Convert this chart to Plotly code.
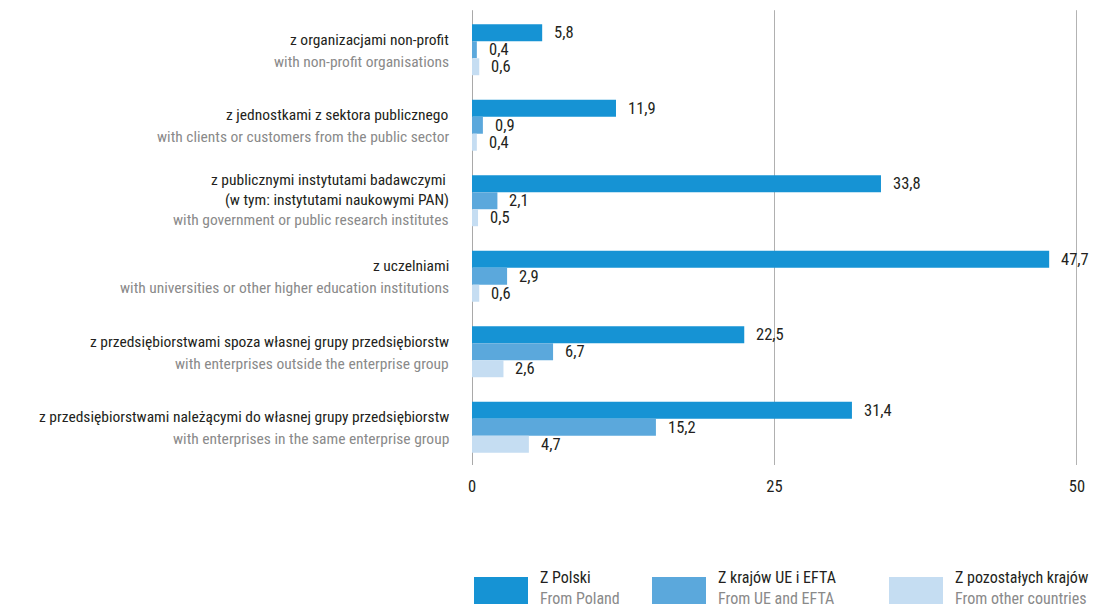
import plotly.graph_objects as go

# Categories (top to bottom) and their two-language labels
categories = ["nonprofit", "public_sector", "research", "universities", "outside_group", "same_group"]
pl_labels = [
    ["z organizacjami non-profit"],
    ["z jednostkami z sektora publicznego"],
    ["z publicznymi instytutami badawczymi\u00a0", "(w tym: instytutami naukowymi PAN)"],
    ["z uczelniami"],
    ["z przedsiębiorstwami spoza własnej grupy przedsiębiorstw"],
    ["z przedsiębiorstwami należącymi do własnej grupy przedsiębiorstw"],
]
en_labels = [
    "with non-profit organisations",
    "with clients or customers from the public sector",
    "with government or public research institutes",
    "with universities or other higher education institutions",
    "with enterprises outside the enterprise group",
    "with enterprises in the same enterprise group",
]

# Series values (%)
poland = [5.8, 11.9, 33.8, 47.7, 22.5, 31.4]
eu_efta = [0.4, 0.9, 2.1, 2.9, 6.7, 15.2]
other = [0.6, 0.4, 0.5, 0.6, 2.6, 4.7]

series_names_pl = ["Z Polski", "Z krajów UE i EFTA", "Z pozostałych krajów"]
series_names_en = ["From Poland", "From UE and EFTA", "From other countries"]
series_values = [poland, eu_efta, other]
colors = ["#1693d4", "#5ba8dc", "#c5ddf2"]

x_ticks = [0, 25, 50]

FONT = "Roboto Condensed, Liberation Sans Narrow, sans-serif"
DARK = "#231f20"
GREY = "#8a8a8a"

fig = go.Figure()
for name, vals, col in zip(series_names_pl, series_values, colors):
    fig.add_trace(go.Bar(
        y=categories, x=vals, orientation="h", name=name,
        marker=dict(color=col, line=dict(width=0)),
        showlegend=False, hoverinfo="x+name",
    ))

annotations = []

# Value labels to the right of each bar (series offset within a group: 17 px)
for k, vals in enumerate(series_values):
    for cat, v in zip(categories, vals):
        annotations.append(dict(
            x=v, xref="x", y=cat, yref="y",
            text=f"{v:.1f}".replace(".", ","), showarrow=False,
            xanchor="left", yanchor="middle", xshift=10, yshift=17 - 17 * k,
            font=dict(family=FONT, size=16.5, color=DARK),
        ))

# Category labels left of the plot
for cat, pl, en in zip(categories, pl_labels, en_labels):
    lines = [(t, DARK) for t in pl] + [(en, GREY)]
    n = len(lines)
    step = 22 if n == 2 else 20
    top = (n - 1) * step / 2 + (-1 if n == 2 else 1)
    for i, (t, c) in enumerate(lines):
        annotations.append(dict(
            x=-0.035, xref="paper", y=cat, yref="y",
            text=t, showarrow=False, xanchor="right", yanchor="middle",
            yshift=top - i * step,
            font=dict(family=FONT, size=15.5, color=c),
        ))

# Custom legend below the axis
PX_W, PX_H = 605, 453  # plot area size in pixels
x0_px = [474, 652, 889]
for px, col, npl, nen in zip(x0_px, colors, series_names_pl, series_names_en):
    xa = (px - 472) / PX_W
    xb = (px + 54 - 472) / PX_W
    fig.add_shape(type="rect", xref="paper", yref="paper",
                  x0=xa, x1=xb, y0=(465 - 604) / PX_H, y1=(465 - 577) / PX_H,
                  fillcolor=col, line=dict(width=0))
    tx = (px + 64 - 472) / PX_W
    annotations.append(dict(x=tx, xref="paper", y=(465 - 577) / PX_H, yref="paper",
                            text=npl, showarrow=False, xanchor="left", yanchor="middle",
                            font=dict(family=FONT, size=16, color=DARK)))
    annotations.append(dict(x=tx, xref="paper", y=(465 - 598) / PX_H, yref="paper",
                            text=nen, showarrow=False, xanchor="left", yanchor="middle",
                            font=dict(family=FONT, size=16, color=GREY)))

# Vertical reference lines
for xv, col in zip(x_ticks, ["#555555", "#b0b0b0", "#666666"]):
    fig.add_shape(type="line", xref="x", yref="paper", x0=xv, x1=xv, y0=0.0, y1=1.004,
                  line=dict(color=col, width=1), layer="below")

fig.update_layout(
    width=1101, height=609,
    margin=dict(l=472, r=24, t=12, b=144),
    paper_bgcolor="white", plot_bgcolor="white",
    barmode="group", bargap=0.325, bargroupgap=0,
    font=dict(family=FONT, size=16, color=DARK),
    annotations=annotations,
    xaxis=dict(range=[0, 50], tickvals=x_ticks, ticktext=[str(t) for t in x_ticks],
               showgrid=False, zeroline=False, showline=False, ticks="",
               ticklabelstandoff=9, tickfont=dict(family=FONT, size=16.5, color=DARK)),
    yaxis=dict(autorange="reversed", showticklabels=False, showgrid=False,
               zeroline=False, showline=False, ticks=""),
)

fig.write_html("out.html")
